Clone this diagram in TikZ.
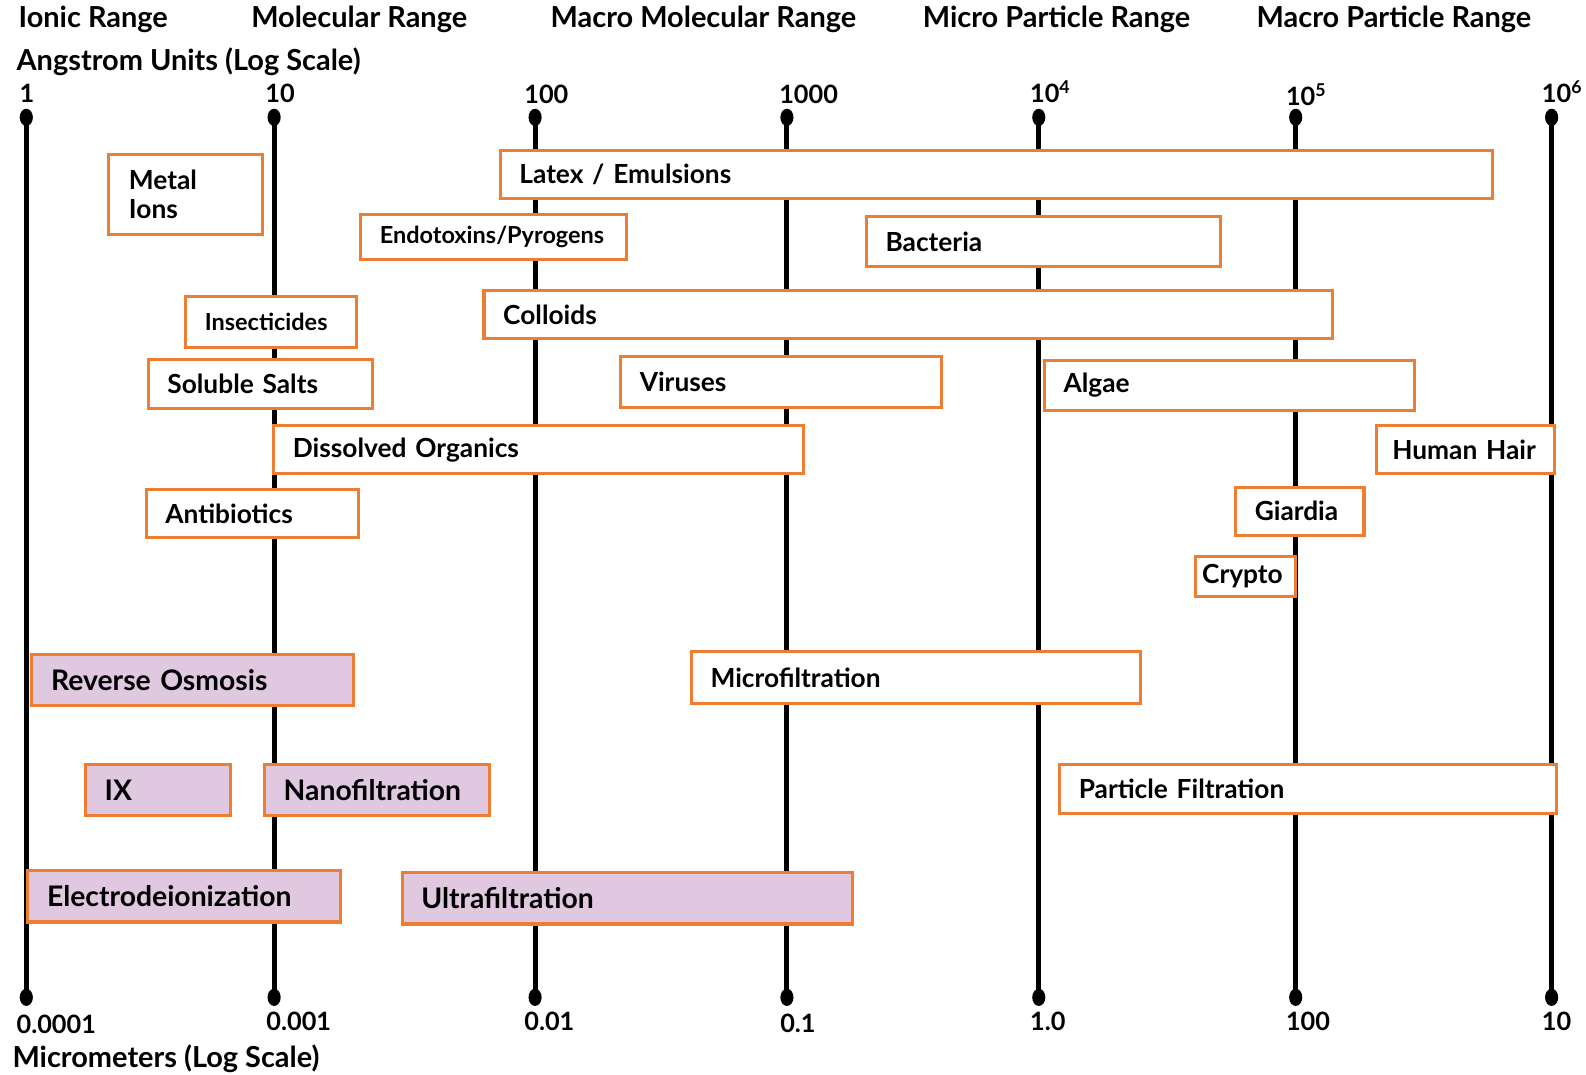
\documentclass[tikz,border=0pt]{standalone}
\usepackage{fontspec}
\setmainfont{Lato}
\usepackage{xcolor}
\usetikzlibrary{positioning,shapes.geometric}

\definecolor{rim}{HTML}{ED7D31}
\definecolor{lilac}{HTML}{E0C8E0}

\begin{document}
\begin{tikzpicture}[
  x=0.5pt, y=-0.5pt,
  title/.style={anchor=base west, inner sep=0pt, font=\fontsize{14.3}{16}\selectfont\bfseries},
  tick/.style={anchor=base west, inner sep=0pt, font=\fontsize{12.5}{14}\selectfont\bfseries},
  knob/.style={ellipse, fill=black, minimum width=6.5pt, minimum height=8.5pt, inner sep=0pt},
  axis/.style={line width=2.5pt},
  band/.style={draw=rim, line width=1.5pt, fill=white, anchor=north west, align=left,
               inner xsep=9.5pt, inner ysep=0pt, font=\fontsize{13}{14.5}\selectfont\bfseries},
  smalltag/.style={font=\fontsize{11.6}{13}\selectfont\bfseries},
  tech/.style={band, fill=lilac, font=\fontsize{14}{16}\selectfont\bfseries},
]
\useasboundingbox (0,0) rectangle (1568,1062);

% range headings
\node[title] (ionic)     at (18,27)   {Ionic Range};
\node[title] (molec)     at (248,27)  {Molecular Range};
\node[title] (macromol)  at (544,27)  {Macro Molecular Range};
\node[title] (micropart) at (912,27)  {Micro Particle Range};
\node[title] (macropart) at (1242,27) {Macro Particle Range};
\node[title] (angstrom)  at (16,70)   {Angstrom Units (Log Scale)};
\node[title] (micrometer) at (12,1055) {Micrometers (Log Scale)};

% decade lines
\foreach \x [count=\i] in {26,271,529,778,1027,1281,1534} {
  \node[knob] (top\i) at (\x,116) {};
  \node[knob] (foot\i) at (\x,986) {};
  \draw[axis] (top\i.center) -- (foot\i.center);
}

% scale labels
\foreach \x/\y/\t [count=\i] in {19/101/1, 262/101/10, 518/102/100, 770/102/1000,
    1018/101/10\textsuperscript{4}, 1271/104/10\textsuperscript{5}, 1524/101/10\textsuperscript{6}}
  \node[tick] (ang\i) at (\x,\y) {\t};
\foreach \x/\y/\t [count=\i] in {16/1022/0.0001, 263/1019/0.001, 518/1019/0.01, 771/1021/0.1,
    1018/1019/1.0, 1271/1019/100, 1524/1019/10}
  \node[tick] (mum\i) at (\x,\y) {\t};

% contaminants
\node[band, text width=56pt, minimum height=39.5pt, inner xsep=10pt] (metal) at (106,151) {Metal\\Ions};
\node[band, text width=471.5pt, minimum height=24pt] (latex) at (493,147) {Latex / Emulsions};
\node[band, smalltag, text width=112.5pt, minimum height=22pt] (endo) at (355,211) {Endotoxins/Pyrogens};
\node[band, text width=156pt, minimum height=24.5pt] (bact) at (855,213) {Bacteria};
\node[band, smalltag, text width=65.5pt, minimum height=25pt] (insect) at (182,292) {Insecticides};
\node[band, text width=400.5pt, minimum height=23.5pt] (coll) at (477,286) {Colloids};
\node[band, text width=92pt, minimum height=24pt] (salts) at (145,354) {Soluble Salts};
\node[band, text width=139.5pt, minimum height=25pt] (vir) at (612,351) {Viruses};
\node[band, text width=164pt, minimum height=24.5pt] (algae) at (1031,355) {Algae};
\node[band, text width=243pt, minimum height=24pt] (dorg) at (269,419) {Dissolved Organics};
\node[band, text width=72pt, minimum height=24pt, inner xsep=8pt] (hair) at (1359,419) {\mbox{Human Hair}};
\node[band, text width=86pt, minimum height=24pt] (anti) at (143,482) {Antibiotics};
\node[band, text width=44.5pt, minimum height=24pt] (giard) at (1220,480) {Giardia};
\node[band, text width=42.5pt, minimum height=19.5pt, inner xsep=3.5pt] (crypto) at (1180,549) {Crypto};

% processes
\node[tech, text width=140pt, minimum height=25pt] (ro) at (30,646) {Reverse Osmosis};
\node[band, text width=203pt, minimum height=25.5pt] (mf) at (682,643) {Microfiltration};
\node[tech, text width=52.5pt, minimum height=25.5pt] (ix) at (83,754) {IX};
\node[tech, text width=92pt, minimum height=25.5pt] (nf) at (260,754) {Nanofiltration};
\node[band, text width=226.5pt, minimum height=24.5pt] (pf) at (1046,754) {Particle Filtration};
\node[tech, text width=135.5pt, minimum height=25.5pt] (edi) at (26,859) {Electrodeionization};
\node[tech, text width=203.5pt, minimum height=25.5pt] (uf) at (396,861) {Ultrafiltration};
\end{tikzpicture}
\end{document}
